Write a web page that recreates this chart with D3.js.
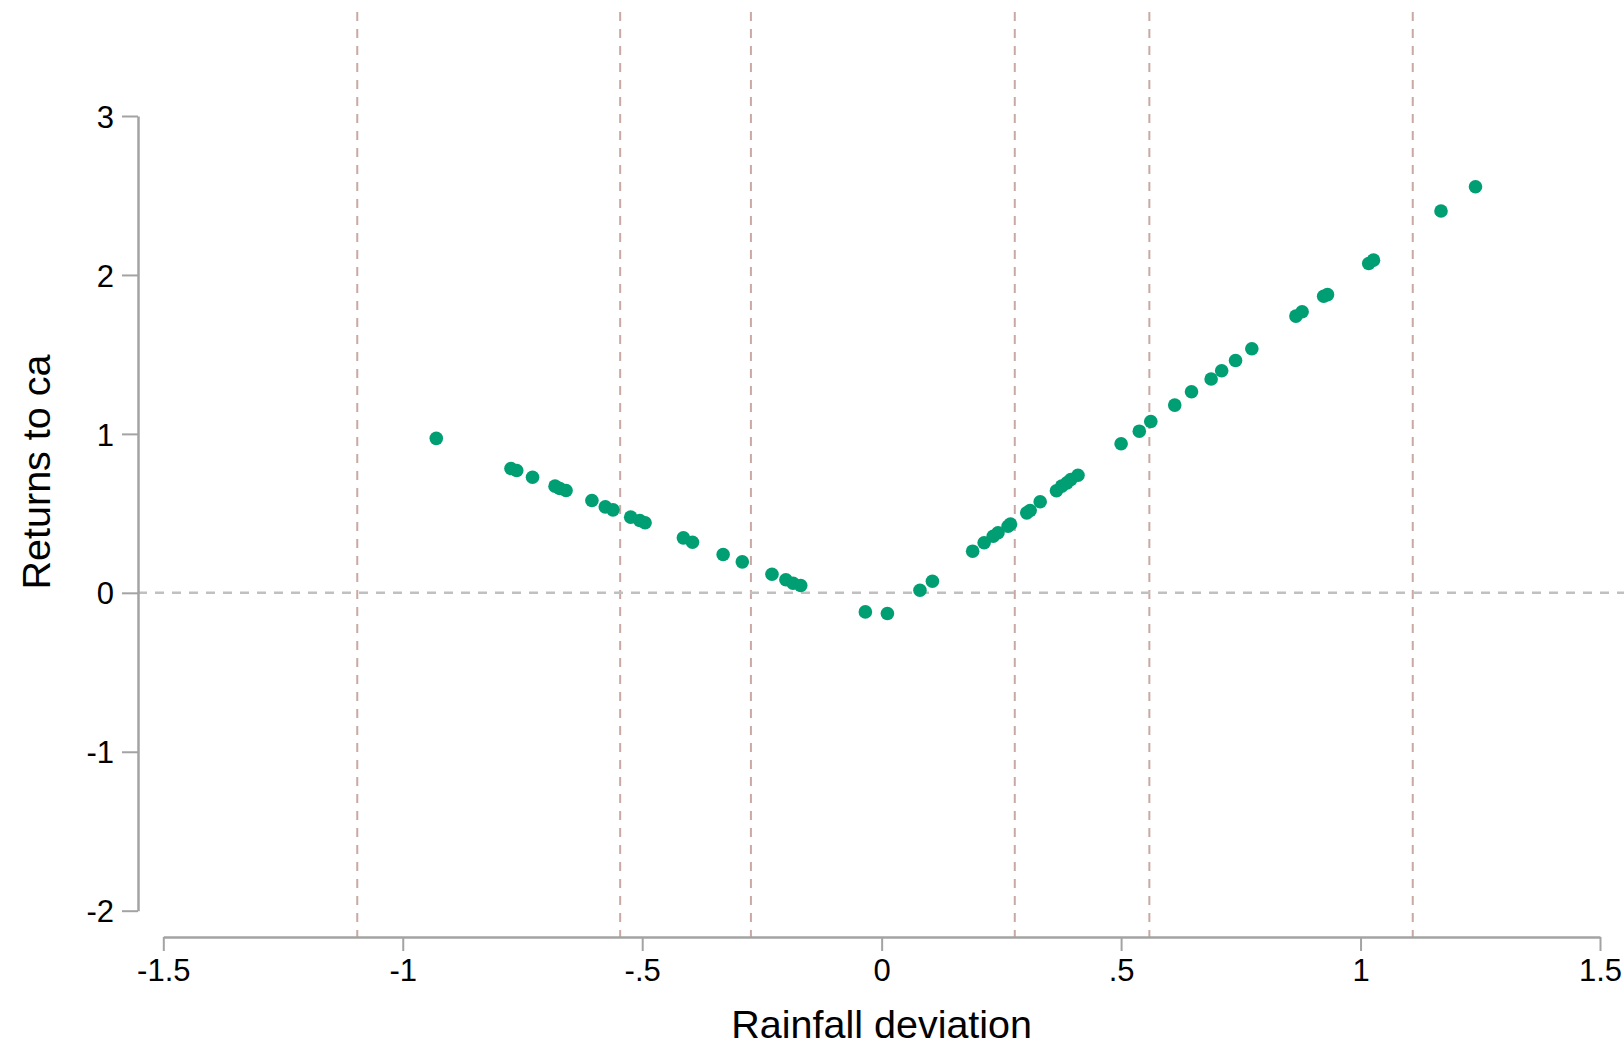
<!DOCTYPE html>
<html>
<head>
<meta charset="utf-8">
<script src="https://cdn.jsdelivr.net/npm/d3@7"></script>
<style>
  body { margin: 0; background: #fff; }
  svg { display: block; font-family: "Liberation Sans", Arial, sans-serif; }
</style>
</head>
<body>
<div id="chart"></div>
<script>
// rainfall deviation (x) and returns (y)
let rainDev = [
    -0.930, -0.774, -0.762, -0.729, -0.682, -0.672, -0.659, -0.605, -0.577, -0.561,
    -0.524, -0.505, -0.494, -0.414, -0.395, -0.331, -0.291, -0.229, -0.200, -0.185,
    -0.169, -0.034,
    0.012, 0.080, 0.106, 0.190, 0.214, 0.233, 0.243, 0.264, 0.269, 0.303,
    0.310, 0.331, 0.365, 0.376, 0.387, 0.395, 0.410, 0.500, 0.538, 0.562,
    0.612, 0.647, 0.688, 0.710, 0.739, 0.773, 0.865, 0.878, 0.923, 0.931,
    1.017, 1.027, 1.168, 1.240
];
let returns = [
    0.972, 0.782, 0.770, 0.727, 0.671, 0.656, 0.644, 0.581, 0.541, 0.522,
    0.476, 0.455, 0.441, 0.346, 0.318, 0.241, 0.195, 0.117, 0.082, 0.060,
    0.046, -0.120,
    -0.130, 0.016, 0.073, 0.262, 0.315, 0.356, 0.378, 0.419, 0.432, 0.503,
    0.518, 0.573, 0.642, 0.671, 0.692, 0.713, 0.740, 0.938, 1.017, 1.078,
    1.181, 1.265, 1.345, 1.397, 1.462, 1.536, 1.741, 1.768, 1.866, 1.876,
    2.072, 2.093, 2.402, 2.555
];

// vertical reference lines
let cutoffs = [-1.095, -0.546, -0.273, 0.278, 0.559, 1.109];

let xTicks = [-1.5, -1, -0.5, 0, 0.5, 1, 1.5];
let yTicks = [-2, -1, 0, 1, 2, 3];

let width = 1624,
    height = 1044;

let svg = d3.select('#chart').append('svg')
    .attr('width', width)
    .attr('height', height);

let x = d3.scaleLinear()
    .domain([-1.5, 1.5])
    .range([163.3, 1600]);

let y = d3.scaleLinear()
    .domain([-2, 3])
    .range([910.7, 116]);

let xAxisY = 937,
    yAxisX = 138;

// Stata style labels: drop the leading zero
function fmt(d) {
    return String(d).replace(/^(-?)0\./, '$1.');
}

let axisColor = '#a3a3a3';

// reference lines
svg.append('g').selectAll('line')
    .data(cutoffs)
    .enter().append('line')
    .attr('x1', function(d) { return x(d); })
    .attr('x2', function(d) { return x(d); })
    .attr('y1', 12)
    .attr('y2', xAxisY)
    .attr('stroke', '#c8a9a4')
    .attr('stroke-width', 2)
    .attr('stroke-dasharray', '9,8');

svg.append('line')
    .attr('x1', yAxisX)
    .attr('x2', width)
    .attr('y1', y(0))
    .attr('y2', y(0))
    .attr('stroke', '#c0c0c0')
    .attr('stroke-width', 2.5)
    .attr('stroke-dasharray', '9,8');

// y axis
let yAxis = svg.append('g')
    .attr('transform', 'translate(' + yAxisX + ',0)')
    .call(d3.axisLeft(y).tickValues(yTicks).tickFormat(fmt).tickSize(16).tickSizeOuter(0).tickPadding(8));

// x axis
let xAxis = svg.append('g')
    .attr('transform', 'translate(0,' + xAxisY + ')')
    .call(d3.axisBottom(x).tickValues(xTicks).tickFormat(fmt).tickSize(14).tickSizeOuter(0).tickPadding(8));

[xAxis, yAxis].forEach(function(a) {
    a.select('.domain').attr('stroke', axisColor).attr('stroke-width', 2.5);
    a.selectAll('.tick line').attr('stroke', axisColor).attr('stroke-width', 2);
    a.selectAll('.tick text')
        .attr('fill', '#000')
        .style('font-size', '31px')
        .style('font-family', '"Liberation Sans", Arial, sans-serif');
});
yAxis.selectAll('.tick text').attr('dy', '0.36em');

// axis titles
svg.append('text')
    .attr('x', x(0))
    .attr('y', 1038)
    .attr('text-anchor', 'middle')
    .style('font-size', '39.5px')
    .text('Rainfall deviation');

svg.append('text')
    .attr('transform', 'translate(50,' + 472 + ') rotate(-90)')
    .attr('text-anchor', 'middle')
    .style('font-size', '39.5px')
    .text('Returns to ca');

// points
let points = rainDev.map(function(d, i) { return { x: d, y: returns[i] }; });

svg.append('g').selectAll('circle')
    .data(points)
    .enter().append('circle')
    .attr('cx', function(d) { return x(d.x); })
    .attr('cy', function(d) { return y(d.y); })
    .attr('r', 6.8)
    .attr('fill', '#009e73');
</script>
</body>
</html>
